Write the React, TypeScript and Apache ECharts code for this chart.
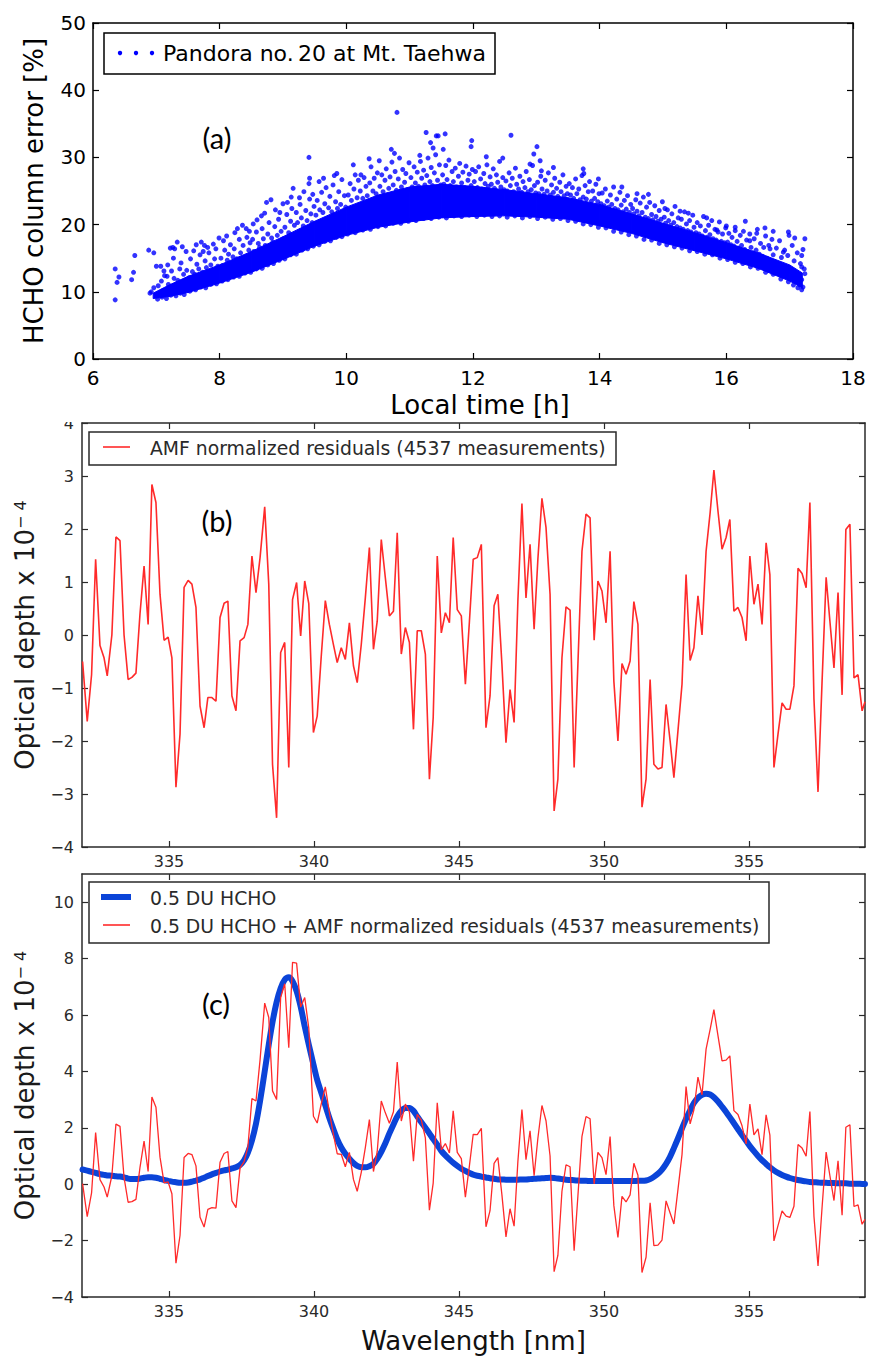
import React, { useEffect, useRef } from 'react';
import * as echarts from 'echarts';

// ---------- Panel (a): HCHO column error vs local time ----------
// dense core of the measurement cloud (lower / upper envelope)
const timeBand = [6.95, 7.2, 7.5, 8.0, 8.5, 9.0, 9.5, 10.0, 10.5, 11.0, 11.5, 12.0, 12.5, 13.0, 13.5, 14.0, 14.5, 15.0, 15.5, 16.0, 16.5, 17.0, 17.2];
const bandLow = [9.0, 9.3, 9.9, 11.3, 12.9, 14.8, 16.8, 18.4, 19.6, 20.4, 21.0, 21.2, 21.3, 21.1, 20.8, 19.8, 18.7, 17.3, 16.1, 14.9, 13.5, 11.6, 10.6];
const bandHigh = [9.8, 11.0, 12.3, 14.0, 16.0, 18.2, 20.5, 22.6, 24.4, 25.6, 26.0, 25.7, 25.2, 24.6, 24.0, 23.0, 21.6, 20.2, 18.8, 17.3, 15.8, 14.0, 12.8];

// individual measurements outside / on the edges of the core
const scatterPoints: number[][] = [
  [6.35, 8.8], [6.35, 13.4], [6.38, 11.4], [6.41, 12.2], [6.61, 11.8], [6.64, 12.9], [6.66, 15.4], [6.88, 16.2], [6.96, 15.8], [7.0, 13.8],
  [7.07, 13.8], [6.92, 10.0], [6.96, 10.6], [6.9, 9.8], [7.13, 12.4], [7.22, 16.5], [7.26, 16.6], [7.33, 17.4], [7.27, 15.0], [7.41, 16.7],
  [7.47, 16.0], [7.37, 13.4], [7.63, 17.0], [7.71, 17.4], [7.76, 16.9], [7.81, 16.6], [7.99, 18.0], [8.06, 17.6], [8.28, 19.4], [8.36, 19.9],
  [8.42, 19.4], [8.53, 20.1], [8.66, 21.3], [8.74, 23.3], [8.81, 23.7], [9.0, 23.1], [9.16, 25.4], [8.95, 21.8], [9.26, 24.0], [9.41, 26.1],
  [9.47, 24.5], [9.41, 30.0], [9.42, 26.9], [9.57, 26.4], [9.85, 27.6], [10.23, 27.4], [10.52, 29.5], [10.76, 30.6], [10.8, 36.7], [11.16, 30.3],
  [11.26, 33.7], [11.37, 31.4], [11.42, 33.2], [11.56, 33.5], [11.45, 33.2], [11.53, 31.2], [11.98, 32.5], [11.97, 31.6], [12.6, 33.3], [12.47, 29.9],
  [13.01, 31.6], [12.96, 30.5], [12.9, 29.0], [13.06, 29.5], [13.08, 28.0], [13.27, 28.5], [13.74, 28.3], [13.75, 27.6], [13.98, 26.8], [14.35, 25.6],
  [14.59, 24.6], [14.77, 24.5], [15.03, 22.4], [15.27, 22.0], [15.4, 21.7], [15.69, 21.0], [15.85, 19.2], [16.0, 19.8], [16.14, 19.1], [16.3, 20.5],
  [16.48, 18.7], [16.61, 19.5], [16.74, 19.0], [16.98, 18.9], [17.08, 18.0], [17.24, 17.9], [17.19, 15.4], [17.19, 13.7], [17.24, 12.7], [16.9, 15.9],
  [16.69, 16.4], [16.37, 17.6],
  [7.03, 10.9], [7.08, 11.6], [7.11, 10.2], [7.17, 12.3], [7.19, 11.1], [7.24, 13.1], [7.28, 12.0], [7.31, 10.8], [7.34, 11.7], [7.39, 14.3],
  [7.43, 12.6], [7.46, 11.4], [7.48, 13.2], [7.52, 12.1], [7.29, 16.4], [7.18, 14.0], [7.12, 13.1],
  [7.54, 14.9], [7.57, 13.0], [7.61, 12.6], [7.64, 14.1], [7.67, 13.4], [7.69, 15.5], [7.73, 12.9], [7.77, 14.6], [7.79, 13.6], [7.83, 15.8],
  [7.86, 14.0], [7.88, 12.9], [7.92, 14.9], [7.94, 16.4], [7.97, 13.8], [7.59, 16.1], [7.74, 16.0], [7.9, 17.1],
  [8.02, 15.0], [8.04, 13.9], [8.08, 16.2], [8.12, 14.7], [8.14, 15.6], [8.17, 17.0], [8.21, 15.2], [8.23, 16.4], [8.27, 14.9], [8.31, 17.8],
  [8.33, 15.8], [8.37, 16.9], [8.39, 15.1], [8.43, 18.1], [8.46, 16.2], [8.48, 17.3], [8.11, 18.3], [8.24, 18.8], [8.47, 19.0],
  [8.52, 17.8], [8.54, 16.0], [8.58, 18.9], [8.61, 17.2], [8.63, 16.6], [8.67, 19.4], [8.69, 17.9], [8.72, 16.9], [8.76, 18.6], [8.78, 20.3],
  [8.82, 18.0], [8.84, 17.4], [8.87, 19.7], [8.91, 18.4], [8.93, 20.8], [8.97, 19.0], [8.99, 17.8], [8.59, 20.7], [8.88, 22.2], [8.71, 21.7],
  [9.03, 19.6], [9.06, 21.5], [9.09, 18.8], [9.12, 20.5], [9.14, 22.4], [9.18, 19.9], [9.21, 21.8], [9.23, 20.3], [9.27, 23.0], [9.29, 21.0],
  [9.32, 19.8], [9.36, 22.1], [9.38, 20.6], [9.42, 23.8], [9.44, 21.6], [9.46, 20.3], [9.49, 22.7], [9.13, 24.1], [9.33, 24.9], [9.07, 23.3],
  [9.52, 21.4], [9.54, 23.6], [9.58, 22.2], [9.61, 24.8], [9.63, 21.8], [9.66, 23.1], [9.68, 25.5], [9.72, 22.5], [9.74, 24.2], [9.77, 21.9],
  [9.79, 25.9], [9.83, 23.4], [9.86, 22.4], [9.88, 24.9], [9.91, 23.0], [9.93, 26.7], [9.97, 24.3], [9.99, 22.6], [9.64, 26.9], [9.81, 27.3],
  [10.03, 24.4], [10.06, 26.1], [10.08, 23.6], [10.12, 25.3], [10.14, 27.4], [10.17, 24.0], [10.19, 26.6], [10.22, 25.0], [10.26, 23.9], [10.28, 27.0],
  [10.31, 25.7], [10.33, 24.3], [10.37, 26.2], [10.39, 28.6], [10.42, 25.0], [10.44, 26.9], [10.47, 24.6], [10.49, 27.7], [10.11, 28.9], [10.36, 29.8],
  [10.53, 25.7], [10.56, 27.4], [10.58, 24.9], [10.61, 26.6], [10.63, 28.3], [10.67, 25.4], [10.69, 27.1], [10.72, 29.3], [10.74, 25.9], [10.77, 27.9],
  [10.79, 25.1], [10.82, 26.8], [10.84, 29.9], [10.87, 25.6], [10.89, 28.2], [10.92, 26.3], [10.94, 27.6], [10.97, 25.2], [10.99, 29.2], [10.71, 31.2],
  [11.02, 27.0], [11.04, 25.6], [11.07, 28.6], [11.09, 26.2], [11.12, 27.8], [11.14, 25.7], [11.17, 29.4], [11.19, 26.9], [11.22, 28.1], [11.24, 25.9],
  [11.27, 27.3], [11.29, 29.9], [11.32, 26.4], [11.34, 28.5], [11.36, 25.8], [11.39, 27.7], [11.41, 30.4], [11.44, 26.6], [11.47, 28.9], [11.49, 25.9],
  [11.33, 32.2],
  [11.52, 27.4], [11.54, 26.0], [11.57, 28.8], [11.59, 26.7], [11.62, 29.6], [11.64, 25.8], [11.67, 27.9], [11.69, 26.4], [11.72, 28.4], [11.74, 25.6],
  [11.77, 27.2], [11.79, 29.1], [11.82, 26.2], [11.84, 27.8], [11.87, 25.5], [11.89, 28.7], [11.92, 26.6], [11.94, 27.5], [11.97, 25.8], [11.99, 28.2],
  [12.02, 26.4], [12.04, 27.9], [12.07, 25.5], [12.09, 28.6], [12.12, 26.8], [12.14, 25.3], [12.17, 27.6], [12.19, 26.1], [12.22, 28.9], [12.24, 25.7],
  [12.27, 27.1], [12.29, 26.0], [12.32, 28.3], [12.34, 25.4], [12.37, 27.4], [12.39, 26.3], [12.42, 29.4], [12.44, 25.6], [12.47, 27.0], [12.49, 25.2],
  [12.21, 30.1],
  [12.52, 26.5], [12.54, 25.0], [12.57, 27.7], [12.59, 25.8], [12.62, 26.9], [12.64, 24.9], [12.67, 28.4], [12.69, 26.0], [12.72, 25.3], [12.74, 27.2],
  [12.77, 24.8], [12.79, 26.4], [12.82, 25.5], [12.84, 27.9], [12.87, 24.9], [12.89, 26.7], [12.92, 25.2], [12.94, 28.8], [12.97, 25.8], [12.99, 24.7],
  [13.02, 26.3], [13.04, 24.6], [13.07, 27.2], [13.09, 25.3], [13.12, 24.5], [13.14, 26.6], [13.17, 25.0], [13.19, 27.7], [13.22, 24.4], [13.24, 25.9],
  [13.27, 24.8], [13.29, 26.9], [13.32, 25.4], [13.34, 24.2], [13.37, 26.3], [13.39, 24.9], [13.42, 27.4], [13.44, 24.3], [13.47, 25.7], [13.49, 24.6],
  [13.52, 26.1], [13.54, 24.4], [13.57, 25.5], [13.59, 23.9], [13.62, 26.8], [13.64, 24.6], [13.67, 25.3], [13.69, 23.7], [13.72, 27.3], [13.74, 24.1],
  [13.77, 25.8], [13.79, 23.8], [13.82, 24.9], [13.84, 26.4], [13.87, 23.5], [13.89, 25.0], [13.92, 23.9], [13.94, 26.0], [13.97, 23.4], [13.99, 24.6],
  [14.02, 23.1], [14.04, 24.7], [14.07, 22.8], [14.09, 25.3], [14.12, 23.5], [14.14, 22.6], [14.17, 24.4], [14.19, 23.0], [14.22, 25.6], [14.24, 22.4],
  [14.27, 23.8], [14.29, 22.2], [14.32, 24.8], [14.34, 22.9], [14.37, 21.9], [14.39, 23.6], [14.42, 22.3], [14.44, 24.3], [14.47, 21.8], [14.49, 23.0],
  [14.52, 22.4], [14.54, 21.6], [14.57, 23.7], [14.59, 22.0], [14.62, 21.3], [14.64, 23.2], [14.67, 21.8], [14.69, 24.1], [14.72, 21.1], [14.74, 22.6],
  [14.77, 20.9], [14.79, 23.3], [14.82, 21.5], [14.84, 20.7], [14.87, 22.8], [14.89, 21.2], [14.92, 20.5], [14.94, 22.1], [14.97, 20.8], [14.99, 23.4],
  [15.02, 21.1], [15.04, 20.2], [15.07, 22.2], [15.09, 20.6], [15.12, 19.9], [15.14, 21.6], [15.17, 20.3], [15.19, 22.7], [15.22, 19.7], [15.24, 21.0],
  [15.27, 19.5], [15.29, 20.8], [15.32, 19.3], [15.34, 21.9], [15.37, 20.1], [15.39, 19.1], [15.42, 20.6], [15.44, 18.9], [15.47, 21.4], [15.49, 19.6],
  [15.52, 18.8], [15.54, 20.3], [15.57, 18.6], [15.59, 19.8], [15.62, 18.3], [15.64, 21.2], [15.67, 19.1], [15.69, 18.1], [15.72, 19.9], [15.74, 18.5],
  [15.77, 20.6], [15.79, 17.9], [15.82, 19.3], [15.84, 17.7], [15.87, 18.9], [15.89, 20.4], [15.92, 17.5], [15.94, 18.6], [15.97, 17.3], [15.99, 19.5],
  [16.02, 17.4], [16.04, 18.7], [16.07, 17.0], [16.09, 18.1], [16.12, 16.8], [16.14, 19.6], [16.17, 17.5], [16.19, 16.5], [16.22, 18.4], [16.24, 16.9],
  [16.27, 19.0], [16.29, 16.3], [16.32, 17.7], [16.34, 16.0], [16.37, 18.6], [16.39, 16.6], [16.42, 15.8], [16.44, 17.9], [16.47, 16.2], [16.49, 19.3],
  [16.52, 15.6], [16.54, 17.2], [16.57, 15.3], [16.59, 16.6], [16.62, 18.3], [16.64, 15.0], [16.67, 16.9], [16.69, 14.7], [16.72, 17.8], [16.74, 15.5],
  [16.77, 14.4], [16.79, 16.5], [16.82, 14.1], [16.84, 17.6], [16.87, 15.1], [16.89, 13.8], [16.92, 16.2], [16.94, 13.5], [16.97, 15.4], [16.99, 18.4],
  [17.02, 13.1], [17.04, 16.9], [17.07, 14.6], [17.09, 12.7], [17.12, 15.8], [17.14, 12.3], [17.17, 14.2], [17.19, 11.8], [17.21, 16.3], [17.23, 13.4],
  [17.16, 11.0], [17.21, 10.7],
  [7.02, 8.9], [7.09, 9.2], [7.16, 9.0], [7.23, 9.5], [7.31, 9.4], [7.38, 9.8], [7.44, 9.6], [7.53, 10.1], [7.62, 10.3], [7.7, 10.7],
  [7.78, 10.6], [7.86, 11.1], [7.95, 11.2], [8.04, 11.6], [8.13, 11.8], [8.22, 12.2], [8.31, 12.3], [8.4, 12.8], [8.49, 12.9], [8.58, 13.4],
  [8.67, 13.5], [8.76, 14.0], [8.85, 14.2], [8.94, 14.7], [9.03, 14.9], [9.12, 15.5], [9.21, 15.6], [9.3, 16.2], [9.39, 16.4], [9.48, 16.8],
  [9.57, 17.0], [9.66, 17.5], [9.75, 17.6], [9.84, 18.1], [9.93, 18.2], [10.02, 18.6], [10.14, 18.8], [10.26, 19.2], [10.38, 19.3], [10.5, 19.7],
  [10.62, 19.8], [10.74, 20.2], [10.86, 20.2], [10.98, 20.5], [11.1, 20.6], [11.22, 20.9], [11.34, 20.9], [11.46, 21.1], [11.58, 21.0], [11.7, 21.3],
  [11.82, 21.2], [11.94, 21.4], [12.06, 21.2], [12.18, 21.4], [12.3, 21.2], [12.42, 21.3], [12.54, 21.1], [12.66, 21.3], [12.78, 21.0], [12.9, 21.2],
  [13.02, 20.9], [13.14, 21.1], [13.26, 20.8], [13.38, 20.9], [13.5, 20.6], [13.62, 20.5], [13.74, 20.1], [13.86, 20.0], [13.98, 19.6], [14.1, 19.5],
  [14.22, 19.0], [14.34, 18.9], [14.46, 18.5], [14.58, 18.3], [14.7, 17.8], [14.82, 17.7], [14.94, 17.2], [15.06, 17.0], [15.18, 16.7], [15.3, 16.5],
  [15.42, 16.1], [15.54, 16.0], [15.66, 15.6], [15.78, 15.5], [15.9, 15.0], [16.02, 14.8], [16.14, 14.4], [16.26, 14.2], [16.38, 13.7], [16.5, 13.5],
  [16.62, 12.9], [16.74, 12.6], [16.86, 11.9], [16.98, 11.5], [17.06, 11.0], [17.13, 10.6], [17.19, 10.3],
];

// ---------- Panels (b) and (c): spectra ----------
const wavelengths = [
  332.02, 332.18, 332.33, 332.47, 332.62, 332.76, 332.87, 333.03, 333.17, 333.31,
  333.45, 333.59, 333.72, 333.86, 334.0, 334.14, 334.28, 334.41, 334.55, 334.69,
  334.83, 334.97, 335.1, 335.24, 335.38, 335.52, 335.66, 335.79, 335.93, 336.07,
  336.21, 336.34, 336.48, 336.62, 336.76, 336.9, 337.03, 337.17, 337.31, 337.45,
  337.59, 337.72, 337.86, 338.0, 338.14, 338.3, 338.44, 338.57, 338.71, 338.85,
  338.99, 339.13, 339.26, 339.4, 339.54, 339.68, 339.82, 339.98, 340.11, 340.25,
  340.39, 340.53, 340.67, 340.8, 340.94, 341.08, 341.22, 341.36, 341.49, 341.63,
  341.77, 341.91, 342.05, 342.18, 342.32, 342.46, 342.6, 342.74, 342.87, 343.01,
  343.15, 343.29, 343.43, 343.56, 343.7, 343.84, 343.98, 344.11, 344.25, 344.39,
  344.53, 344.67, 344.8, 344.94, 345.08, 345.22, 345.36, 345.49, 345.63, 345.77,
  345.93, 346.07, 346.21, 346.34, 346.48, 346.62, 346.76, 346.9, 347.03, 347.17,
  347.31, 347.45, 347.59, 347.72, 347.86, 348.0, 348.14, 348.28, 348.41, 348.55,
  348.69, 348.83, 348.97, 349.1, 349.24, 349.38, 349.52, 349.66, 349.79, 349.93,
  350.07, 350.21, 350.34, 350.48, 350.62, 350.76, 350.9, 351.03, 351.17, 351.31,
  351.45, 351.59, 351.72, 351.86, 352.0, 352.14, 352.28, 352.41, 352.55, 352.69,
  352.83, 352.97, 353.1, 353.24, 353.38, 353.52, 353.66, 353.79, 353.93, 354.07,
  354.21, 354.34, 354.48, 354.62, 354.76, 354.9, 355.03, 355.17, 355.31, 355.45,
  355.59, 355.72, 355.86, 356.0, 356.14, 356.28, 356.41, 356.55, 356.69, 356.83,
  356.97, 357.1, 357.24, 357.38, 357.52, 357.66, 357.79, 357.93, 358.07, 358.21,
  358.34, 358.48, 358.62, 358.76, 358.9, 359.0,
];

const residuals = [
  -0.5, -1.63, -0.75, 1.43, -0.2, -0.43, -0.77, 0.0, 1.85, 1.78,
  0.0, -0.84, -0.8, -0.72, 0.4, 1.3, 0.2, 2.84, 2.5, 0.77,
  -0.1, -0.04, -0.43, -2.87, -1.87, 0.9, 1.03, 0.96, 0.52, -1.34,
  -1.75, -1.18, -1.18, -1.25, 0.33, 0.6, 0.64, -1.15, -1.43, -0.11,
  -0.05, 0.2, 1.49, 0.8, 1.46, 2.42, 0.96, -2.44, -3.45, -0.33,
  -0.14, -2.5, 0.67, 0.99, -0.02, 1.02, 0.59, -1.84, -1.53, -0.4,
  0.65, 0.2, -0.18, -0.52, -0.24, -0.46, 0.23, -0.58, -0.9, -0.18,
  0.7, 1.65, -0.27, 0.26, 1.8, 1.08, 0.36, 0.45, 1.93, -0.36,
  0.14, -0.14, -1.78, 0.08, 0.08, -0.36, -2.72, -1.56, 1.49, 0.04,
  0.42, 0.23, 1.84, 0.48, 0.36, -0.93, 0.26, 1.43, 1.46, 1.71,
  -1.75, -1.15, 0.55, 0.77, -0.55, -2.03, -1.03, -1.65, 0.64, 2.48,
  0.7, 1.71, 0.11, 1.43, 2.58, 2.03, 0.77, -3.32, -2.72, -0.43,
  0.53, 0.47, -2.5, -0.55, 1.58, 2.28, 2.21, -0.1, 1.02, 0.83,
  0.23, 1.58, -0.87, -2.0, -0.54, -0.74, -0.49, 0.63, 0.2, -3.25,
  -2.72, -0.84, -2.44, -2.53, -2.5, -1.31, -2.0, -2.69, -1.81, -0.93,
  1.14, -0.48, -0.24, 0.74, 0.0, 1.58, 2.31, 3.11, 2.34, 1.62,
  1.84, 2.18, 0.45, 0.52, 0.33, -0.11, 1.49, 0.58, 0.96, 0.2,
  1.74, 1.14, -2.5, -1.87, -1.28, -1.4, -1.4, -0.96, 1.26, 1.16,
  0.89, 2.5, -1.21, -2.96, -0.87, 1.09, 0.26, -0.62, 0.8, -1.13,
  1.99, 2.09, -0.81, -0.75, -1.43, -1.26,
];

const hcho = [
  0.52, 0.48, 0.44, 0.4, 0.36, 0.33, 0.31, 0.3, 0.28, 0.27,
  0.24, 0.2, 0.18, 0.18, 0.2, 0.23, 0.25, 0.25, 0.23, 0.19,
  0.15, 0.12, 0.09, 0.07, 0.05, 0.05, 0.06, 0.09, 0.13, 0.17,
  0.23, 0.29, 0.35, 0.4, 0.45, 0.49, 0.52, 0.56, 0.6, 0.68,
  0.85, 1.12, 1.55, 2.15, 2.95, 4.0, 4.95, 5.75, 6.45, 6.95,
  7.25, 7.34, 7.2, 6.85, 6.3, 5.6, 4.95, 4.25, 3.7, 3.25,
  2.8, 2.35, 1.95, 1.6, 1.3, 1.08, 0.9, 0.75, 0.65, 0.6,
  0.6, 0.64, 0.72, 0.9, 1.15, 1.45, 1.8, 2.12, 2.4, 2.6,
  2.7, 2.7, 2.6, 2.4, 2.2, 2.0, 1.8, 1.6, 1.4, 1.18,
  1.02, 0.88, 0.76, 0.65, 0.55, 0.47, 0.4, 0.34, 0.3, 0.27,
  0.24, 0.21, 0.19, 0.17, 0.17, 0.16, 0.16, 0.16, 0.16, 0.17,
  0.17, 0.18, 0.19, 0.2, 0.21, 0.22, 0.23, 0.22, 0.2, 0.18,
  0.16, 0.15, 0.14, 0.13, 0.12, 0.12, 0.11, 0.11, 0.11, 0.11,
  0.11, 0.11, 0.11, 0.11, 0.11, 0.11, 0.11, 0.11, 0.12, 0.12,
  0.13, 0.18, 0.26, 0.37, 0.52, 0.72, 0.98, 1.28, 1.62, 1.98,
  2.32, 2.62, 2.88, 3.06, 3.17, 3.21, 3.18, 3.08, 2.93, 2.75,
  2.56, 2.37, 2.16, 1.95, 1.74, 1.54, 1.35, 1.17, 1.0, 0.85,
  0.72, 0.6, 0.49, 0.4, 0.33, 0.27, 0.22, 0.18, 0.15, 0.12,
  0.1, 0.08, 0.07, 0.06, 0.05, 0.05, 0.04, 0.04, 0.03, 0.03,
  0.03, 0.02, 0.02, 0.02, 0.01, 0.01,
];

const timeTicks = [6, 8, 10, 12, 14, 16, 18];
const errorTicks = [0, 10, 20, 30, 40, 50];
const wlTicks = [335, 340, 345, 350, 355];
const odTicksB = [-4, -3, -2, -1, 0, 1, 2, 3, 4];
const odTicksC = [-4, -2, 0, 2, 4, 6, 8, 10];

const legendA = 'Pandora no.\u200920 at Mt. Taehwa';
const legendB = 'AMF normalized residuals (4537 measurements)';
const legendC1 = '0.5 DU HCHO';
const legendC2 = '0.5 DU HCHO + AMF normalized residuals (4537 measurements)';

const FONT = '"DejaVu Sans", Verdana, sans-serif';
const LABEL_FONT = 'Lato, "Open Sans", sans-serif';
const GRAY = '#2a2a2a';

const fmtMinus = (v: number) => (v < 0 ? '\u2212' + String(-v) : String(v));

export default function App() {
  const ref = useRef<HTMLDivElement>(null);

  useEffect(() => {
    if (!ref.current) return;
    const chart = echarts.init(ref.current, null, { renderer: 'svg', width: 870, height: 1357 });

    const n = Math.min(wavelengths.length, residuals.length, hcho.length);
    const residData: number[][] = [];
    const hchoData: number[][] = [];
    const sumData: number[][] = [];
    for (let i = 0; i < n; i++) {
      residData.push([wavelengths[i], residuals[i]]);
      hchoData.push([wavelengths[i], hcho[i]]);
      sumData.push([wavelengths[i], Math.round((hcho[i] + residuals[i]) * 1000) / 1000]);
    }
    const bandData = timeBand.map((t, i) => [t, bandLow[i], bandHigh[i]]);

    const line = (c: string) => ({ show: true, onZero: false, lineStyle: { color: c, width: 1.5 } });
    const tick = (c: string, vals?: number[]) => ({
      show: true, inside: true, length: 6, lineStyle: { color: c, width: 1.2 },
      ...(vals ? { customValues: vals } : {}),
    });

    const xAxis: any[] = [
      {
        gridIndex: 0, type: 'value', position: 'bottom', min: 6, max: 18, interval: 2,
        axisLine: line('#000'), axisTick: tick('#000', timeTicks), splitLine: { show: false },
        axisLabel: { color: '#000', fontSize: 20, fontFamily: FONT, margin: 9, customValues: timeTicks },
        name: 'Local time [h]', nameLocation: 'middle', nameGap: 33,
        nameTextStyle: { color: '#000', fontSize: 26, fontFamily: FONT, padding: [0, 0, 0, 14] },
      },
      {
        gridIndex: 0, type: 'value', position: 'top', min: 6, max: 18, interval: 2,
        axisLine: line('#000'), axisTick: tick('#000', timeTicks), axisLabel: { show: false }, splitLine: { show: false },
      },
      {
        gridIndex: 1, type: 'value', position: 'bottom', min: 332, max: 359,
        axisLine: line(GRAY), axisTick: tick(GRAY, wlTicks), splitLine: { show: false },
        axisLabel: { color: GRAY, fontSize: 16, fontFamily: FONT, margin: 6, customValues: wlTicks },
      },
      {
        gridIndex: 1, type: 'value', position: 'top', min: 332, max: 359,
        axisLine: line(GRAY), axisTick: tick(GRAY, wlTicks), axisLabel: { show: false }, splitLine: { show: false },
      },
      {
        gridIndex: 2, type: 'value', position: 'bottom', min: 332, max: 359,
        axisLine: line(GRAY), axisTick: tick(GRAY, wlTicks), splitLine: { show: false },
        axisLabel: { color: GRAY, fontSize: 16, fontFamily: FONT, margin: 6, customValues: wlTicks },
        name: 'Wavelength [nm]', nameLocation: 'middle', nameGap: 31,
        nameTextStyle: { color: '#111', fontSize: 26, fontFamily: FONT },
      },
      {
        gridIndex: 2, type: 'value', position: 'top', min: 332, max: 359,
        axisLine: line(GRAY), axisTick: tick(GRAY, wlTicks), axisLabel: { show: false }, splitLine: { show: false },
      },
    ];

    const odName = 'Optical depth x 10{sup|\u2212 4}';
    const odNameStyle = {
      color: '#1a1a1a', fontSize: 26, fontFamily: FONT,
      rich: { sup: { fontSize: 16, fontFamily: FONT, color: '#1a1a1a', verticalAlign: 'top', lineHeight: 16 } },
    };

    const yAxis: any[] = [
      {
        gridIndex: 0, type: 'value', position: 'left', min: 0, max: 50, interval: 10,
        axisLine: line('#000'), axisTick: tick('#000', errorTicks), splitLine: { show: false },
        axisLabel: { color: '#000', fontSize: 20, fontFamily: FONT, margin: 7, customValues: errorTicks },
        name: 'HCHO column error [%]', nameLocation: 'middle', nameGap: 46,
        nameTextStyle: { color: '#000', fontSize: 26, fontFamily: FONT },
      },
      {
        gridIndex: 0, type: 'value', position: 'right', min: 0, max: 50, interval: 10,
        axisLine: line('#000'), axisTick: tick('#000', errorTicks), axisLabel: { show: false }, splitLine: { show: false },
      },
      {
        gridIndex: 1, type: 'value', position: 'left', min: -4, max: 4, interval: 1,
        axisLine: line(GRAY), axisTick: tick(GRAY, odTicksB), splitLine: { show: false },
        axisLabel: { color: GRAY, fontSize: 16, fontFamily: FONT, margin: 8, customValues: odTicksB, formatter: fmtMinus },
        name: odName, nameLocation: 'middle', nameGap: 44, nameTextStyle: odNameStyle,
      },
      {
        gridIndex: 1, type: 'value', position: 'right', min: -4, max: 4, interval: 1,
        axisLine: line(GRAY), axisTick: tick(GRAY, odTicksB), axisLabel: { show: false }, splitLine: { show: false },
      },
      {
        gridIndex: 2, type: 'value', position: 'left', min: -4, max: 11,
        axisLine: line(GRAY), axisTick: tick(GRAY, odTicksC), splitLine: { show: false },
        axisLabel: { color: GRAY, fontSize: 16, fontFamily: FONT, margin: 8, customValues: odTicksC, formatter: fmtMinus },
        name: odName, nameLocation: 'middle', nameGap: 44, nameTextStyle: odNameStyle,
      },
      {
        gridIndex: 2, type: 'value', position: 'right', min: -4, max: 11,
        axisLine: line(GRAY), axisTick: tick(GRAY, odTicksC), axisLabel: { show: false }, splitLine: { show: false },
      },
    ];

    const txt = (x: number, y: number, text: string, size: number, color: string, family = FONT, align = 'left') => ({
      type: 'text', x, y, z: 100,
      style: { text, fontSize: size, fontFamily: family, fill: color, align, verticalAlign: 'middle' },
    });

    const graphic: any[] = [
      // cover the clipped top of the "4" label of panel (b)
      { type: 'rect', z: 100, shape: { x: 48, y: 404, width: 30, height: 18 }, style: { fill: '#fff' } },
      // legend (a)
      { type: 'rect', z: 100, shape: { x: 104, y: 33, width: 391, height: 41 }, style: { fill: '#fff', stroke: '#000', lineWidth: 1.5 } },
      { type: 'circle', z: 101, shape: { cx: 120, cy: 53, r: 2.2 }, style: { fill: '#0000ff' } },
      { type: 'circle', z: 101, shape: { cx: 136, cy: 53, r: 2.2 }, style: { fill: '#0000ff' } },
      { type: 'circle', z: 101, shape: { cx: 152, cy: 53, r: 2.2 }, style: { fill: '#0000ff' } },
      txt(163, 53, legendA, 22, '#000'),
      txt(217, 137, '(a)', 29, '#000', LABEL_FONT, 'center'),
      // legend (b)
      { type: 'rect', z: 100, shape: { x: 89, y: 432, width: 527, height: 33 }, style: { fill: '#fff', stroke: GRAY, lineWidth: 1.5 } },
      { type: 'line', z: 101, shape: { x1: 103, y1: 447, x2: 130, y2: 447 }, style: { stroke: '#ff2a2a', lineWidth: 1.6 } },
      txt(150, 448, legendB, 18.8, GRAY),
      txt(217, 520, '(b)', 29, '#000', LABEL_FONT, 'center'),
      // legend (c)
      { type: 'rect', z: 100, shape: { x: 89, y: 882, width: 680, height: 61 }, style: { fill: '#fff', stroke: GRAY, lineWidth: 1.5 } },
      { type: 'line', z: 101, shape: { x1: 101, y1: 897, x2: 131, y2: 897 }, style: { stroke: '#0b44d8', lineWidth: 6 } },
      txt(150, 898, legendC1, 18.8, GRAY),
      { type: 'line', z: 101, shape: { x1: 103, y1: 925, x2: 130, y2: 925 }, style: { stroke: '#ff2a2a', lineWidth: 1.6 } },
      txt(150, 926, legendC2, 18.8, GRAY),
      txt(216, 1003, '(c)', 29, '#000', LABEL_FONT, 'center'),
    ];

    const option: any = {
      animation: false,
      backgroundColor: '#ffffff',
      grid: [
        { left: 93, top: 23, width: 760, height: 336, outerBoundsMode: 'none', containLabel: false },
        { left: 82, top: 423, width: 783, height: 424, outerBoundsMode: 'none', containLabel: false },
        { left: 82, top: 874, width: 783, height: 423, outerBoundsMode: 'none', containLabel: false },
      ],
      xAxis,
      yAxis,
      graphic,
      series: [
        {
          type: 'custom', name: 'Pandora core', xAxisIndex: 0, yAxisIndex: 0, silent: true,
          data: bandData,
          renderItem: (params: any, api: any) => {
            const i = params.dataIndex;
            if (i >= timeBand.length - 1) return null;
            const p1 = api.coord([timeBand[i], bandHigh[i]]);
            const p2 = api.coord([timeBand[i + 1], bandHigh[i + 1]]);
            const p3 = api.coord([timeBand[i + 1], bandLow[i + 1]]);
            const p4 = api.coord([timeBand[i], bandLow[i]]);
            return {
              type: 'polygon',
              shape: { points: [p1, p2, p3, p4] },
              style: { fill: '#0000ff', stroke: '#0000ff', lineWidth: 1 },
            };
          },
        },
        {
          type: 'scatter', name: legendA, xAxisIndex: 0, yAxisIndex: 0,
          data: scatterPoints, symbol: 'circle', symbolSize: 5,
          itemStyle: { color: '#0000ff' }, silent: true,
        },
        {
          type: 'line', name: legendB, xAxisIndex: 2, yAxisIndex: 2,
          data: residData, symbol: 'none', showSymbol: false,
          lineStyle: { color: '#ff2a2a', width: 1.6 }, silent: true,
        },
        {
          type: 'line', name: legendC1, xAxisIndex: 4, yAxisIndex: 4,
          data: hchoData, symbol: 'none', showSymbol: false, smooth: 0.3,
          lineStyle: { color: '#0b44d8', width: 6, cap: 'round', join: 'round' }, silent: true,
        },
        {
          type: 'line', name: legendC2, xAxisIndex: 4, yAxisIndex: 4,
          data: sumData, symbol: 'none', showSymbol: false,
          lineStyle: { color: '#ff2a2a', width: 1.3 }, silent: true,
        },
      ],
    };

    chart.setOption(option);
    return () => chart.dispose();
  }, []);

  return (
    <div
      ref={ref}
      style={{ position: 'absolute', left: 0, top: 0, width: 870, height: 1357, background: '#fff' }}
    />
  );
}
